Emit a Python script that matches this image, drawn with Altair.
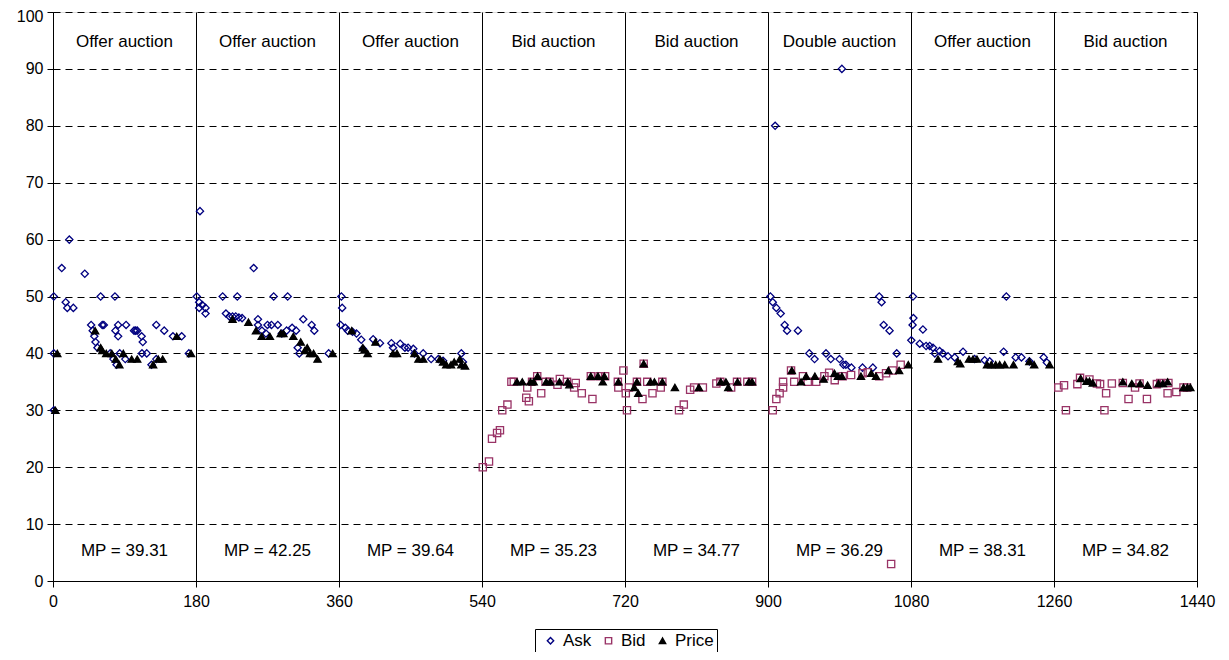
import altair as alt
import pandas as pd

# ---------------- data ----------------
ask_t = [1, 1, 1, 11, 20.5, 16, 18, 25.6, 40, 60, 78, 48, 50, 52, 53.5, 56, 62, 64, 78.6, 82, 82, 84, 92, 91,
         102, 104, 106, 111.6, 113, 112, 118, 124, 130, 130, 140, 151, 162, 171, 72, 76, 80,
         185, 181, 184, 184, 188, 192, 192, 213.6, 232, 252.6, 277.8, 295.4, 217.7, 222, 226, 230, 234, 238,
         258, 258, 270, 275, 283, 294, 301, 306, 315, 325.6, 328.9, 347, 308, 310, 263, 268, 288,
         363, 364, 362, 368, 371, 377, 382, 388, 390, 403, 411.6, 426, 428, 437, 443, 447, 453.5, 455, 466,
         476, 485, 491, 514, 516,
         909, 993, 903, 906, 910.5, 916, 921, 924, 937.7, 952, 958.6, 973, 979, 990, 995, 998, 1005, 1019,
         1032, 1040, 1043, 1045.6, 1053, 1062,
         1082.5, 1083, 1082, 1080.4, 1095, 1091, 1099, 1103.5, 1107.7, 1110, 1116, 1120, 1126.6, 1135,
         1145.5, 1160, 1172.7, 1179, 1196.6, 1200, 1211.8, 1219, 1229, 1247, 1251]
ask_v = [50, 30, 40, 55, 60, 49, 48, 48, 54, 50, 50, 45, 44, 43, 42, 41, 45, 45, 44, 45, 43, 40, 45, 39,
         44, 44, 44, 43, 42, 40, 40, 38, 45, 39, 44, 43, 43, 40, 40, 39, 38,
         65, 50, 49, 48, 48.5, 48, 47, 50, 50, 55, 50, 50, 47, 46.5, 46.5, 46.5, 46.3, 46.2,
         46, 45, 45, 45, 45, 44, 44.5, 44, 46, 45, 44, 40, 41, 40, 44, 43.5, 43.5,
         50, 48, 45, 44.5, 44, 43.8, 43.5, 42.4, 40.8, 42.5, 41.8, 41.8, 41, 41.7, 41, 41, 40.8, 40, 40,
         39, 39, 38.7, 40, 38.5,
         80, 90, 50, 49, 48, 47, 45, 44, 44, 40, 39, 40, 39, 39, 38, 38, 37.5, 37.5,
         37.5, 50, 49, 45, 44, 40,
         50, 46.2, 45, 42.3, 44.2, 41.7, 41.3, 41.3, 41, 40, 40.4, 40, 39.5, 39.3,
         40.3, 39, 38.8, 38.6, 40.3, 50, 39.3, 39.3, 38.6, 39.3, 38.4]

bid_t = [541, 548.8, 552.6, 559, 562.6, 565.5, 572, 577, 595.7, 599, 597, 614.5, 609.5, 625, 635, 647, 658,
         656, 665.6, 677, 679, 688, 695, 711, 711.6, 718, 580, 603, 620, 638,
         722.5, 721, 725, 735, 743.5, 742, 748, 754.6, 765, 767, 788, 794, 802, 807, 818, 835, 840, 853.6,
         861, 874, 880,
         906, 910.5, 914.6, 919, 919, 929, 933, 944, 950, 960.7, 971, 977, 984, 994, 1004.6, 1019, 1025.6,
         1040, 1048.6, 1057, 1067, 1055,
         1265.5, 1272.6, 1275, 1289.4, 1292.8, 1304.6, 1314, 1318, 1325.6, 1323.5, 1332.8, 1346.6, 1353.8,
         1362, 1367.7, 1377, 1389.5, 1393.7, 1403, 1404, 1414, 1423, 1427.4]
bid_v = [20, 21, 25, 26, 26.5, 30, 31, 35, 32.2, 31.6, 34, 33, 36, 35, 34.5, 35, 34.8,
         34, 33, 36, 32, 36, 36, 35, 34, 37, 35, 35, 35, 35.5,
         30, 33, 34, 35, 38.2, 32, 35, 33, 34, 35, 30, 31, 33.6, 34, 34, 34.7, 35, 34,
         35, 35, 35,
         30, 32, 33, 34, 35, 37, 35, 36, 35, 35, 36, 36.6, 35.3, 36, 36.2, 36.5, 36.7,
         36, 36.5, 37, 38, 3,
         34, 34.4, 30, 34.6, 35.7, 35.4, 34.7, 34.6, 33, 30, 34.7, 34.8, 32,
         34, 34.7, 32, 34.6, 34.8, 33, 34.8, 33.2, 34, 34]

price_t = [3, 5.4, 53, 60, 62, 67, 74, 79, 83.5, 88.5, 99, 106, 126, 132.5, 138, 155.7, 173.7,
           226, 246, 255.5, 262.7, 273, 286.6, 290, 302.5, 311.8, 317, 320, 323.5, 328, 333, 352,
           376, 390, 392, 396, 406, 428, 433, 455, 460, 466, 487, 491, 495, 501, 505, 512, 514, 518.6,
           584, 590.7, 601, 605, 610, 620.8, 626, 637.5, 648, 650, 677, 686, 694, 692, 711.6,
           735, 731.7, 736.7, 743.5, 752, 757, 767, 782.8, 813, 840.6, 847, 850, 861.6, 876, 880,
           930, 941.6, 948, 959, 970, 983.7, 988, 993, 1017, 1030, 1036, 1051.5, 1065, 1076.6,
           1114, 1139, 1142, 1153, 1158, 1163, 1175.7, 1181, 1186.6, 1191.6, 1198, 1209, 1229, 1235, 1254.5,
           1293.6, 1301, 1304.6, 1308.8, 1346.6, 1358, 1368.5, 1377.8, 1391.6, 1397, 1403, 1423, 1428, 1431.6]
price_v = [30, 40, 44, 41, 40.5, 40, 40, 39, 38, 40, 39, 39, 38, 39, 39, 43, 40,
           46, 45.5, 44, 43, 43, 43.5, 43.5, 43, 42, 40.5, 41, 40, 40, 39, 40,
           44, 41, 40.6, 40, 42, 40, 40, 40, 39, 39, 39, 38.5, 38, 38, 38.5, 39, 38, 37.8,
           35, 35, 35, 35, 36, 35, 35, 35, 35, 34.5, 36, 36, 36, 35, 35,
           35, 34, 33, 38.2, 35, 35, 35, 34, 34, 35, 35, 34, 35, 35, 35,
           37, 35, 36, 36, 35.5, 36.5, 36, 36, 36, 36.5, 36, 37, 37, 38,
           39, 38.6, 38.2, 39, 39, 39, 38, 38, 38, 38, 38, 38, 38.6, 38, 38,
           35.6, 35.1, 35.1, 34.8, 35, 34.7, 34.7, 34.4, 34.7, 34.7, 35, 34, 34, 34]

panel_titles = ["Offer auction", "Offer auction", "Offer auction", "Bid auction",
                "Bid auction", "Double auction", "Offer auction", "Bid auction"]
mp_values = [39.31, 42.25, 39.64, 35.23, 34.77, 36.29, 38.31, 34.82]
x_ticks = [0, 180, 360, 540, 720, 900, 1080, 1260, 1440]
y_ticks = [0, 10, 20, 30, 40, 50, 60, 70, 80, 90, 100]
series_names = ["Ask", "Bid", "Price"]

# ---------------- tables ----------------
df = pd.DataFrame({
    "t": ask_t + bid_t + price_t,
    "v": ask_v + bid_v + price_v,
    "s": ["Ask"] * len(ask_t) + ["Bid"] * len(bid_t) + ["Price"] * len(price_t),
})
df["o"] = range(len(df))

panel_df = pd.DataFrame({
    "mid": [x_ticks[i] + (x_ticks[i + 1] - x_ticks[i]) / 2 for i in range(len(panel_titles))],
    "title": panel_titles,
    "mp": ["MP = %.2f" % m for m in mp_values],
})

FONT = "Liberation Sans"
xscale = alt.Scale(domain=[0, 1440], nice=False, zero=False)
yscale = alt.Scale(domain=[0, 100], nice=False)

leg = alt.Legend(
    title=None, orient="none", direction="horizontal", legendX=482, legendY=617,
    labelFont=FONT, labelFontSize=17, labelColor="black", symbolSize=40, symbolStrokeWidth=1.4,
    strokeColor="black", fillColor="white", padding=3, columnPadding=4, labelOffset=4,
    symbolOffset=4,
)

points = alt.Chart(df).mark_point(size=52, strokeWidth=1.3, opacity=1).encode(
    x=alt.X("t:Q", scale=xscale, axis=alt.Axis(
        values=x_ticks, format="d", title=None, grid=True, gridColor="black", gridWidth=1,
        domainColor="black", tickColor="black", tickSize=6, labelPadding=6,
        labelFont=FONT, labelFontSize=16, labelColor="black", labelFlush=False)),
    y=alt.Y("v:Q", scale=yscale, axis=alt.Axis(
        values=y_ticks, format="d", title=None, grid=True, gridColor="black", gridDash=[7, 5], gridWidth=1,
        domainColor="black", tickColor="black", tickSize=6, labelPadding=4,
        labelOffset={"condition": {"test": "datum.value === 100", "value": 4}, "value": 0},
        labelFont=FONT, labelFontSize=16, labelColor="black")),
    shape=alt.Shape("s:N", scale=alt.Scale(domain=series_names, range=["diamond", "square", "triangle-up"]), legend=leg),
    stroke=alt.Stroke("s:N", scale=alt.Scale(domain=series_names, range=["#000080", "#993366", "#000000"]), legend=leg),
    fill=alt.Fill("s:N", scale=alt.Scale(domain=series_names, range=["transparent", "transparent", "#000000"]), legend=leg),
    order=alt.Order("o:Q"),
)

titles = alt.Chart(panel_df).mark_text(font=FONT, fontSize=17, color="black", baseline="middle").encode(
    x=alt.X("mid:Q", scale=xscale), y=alt.value(30), text="title:N")
mps = alt.Chart(panel_df).mark_text(font=FONT, fontSize=17, color="black", baseline="middle").encode(
    x=alt.X("mid:Q", scale=xscale), y=alt.value(539), text="mp:N")

chart = alt.layer(points, titles, mps).properties(
    width=1144, height=569,
    autosize=alt.AutoSizeParams(type="none"),
    padding={"left": 45, "top": 4, "right": 24, "bottom": 71},
).configure_view(stroke="#808080", strokeWidth=1).configure(background="white")

chart.save("out.html", embed_options={"renderer": "svg", "actions": False})
